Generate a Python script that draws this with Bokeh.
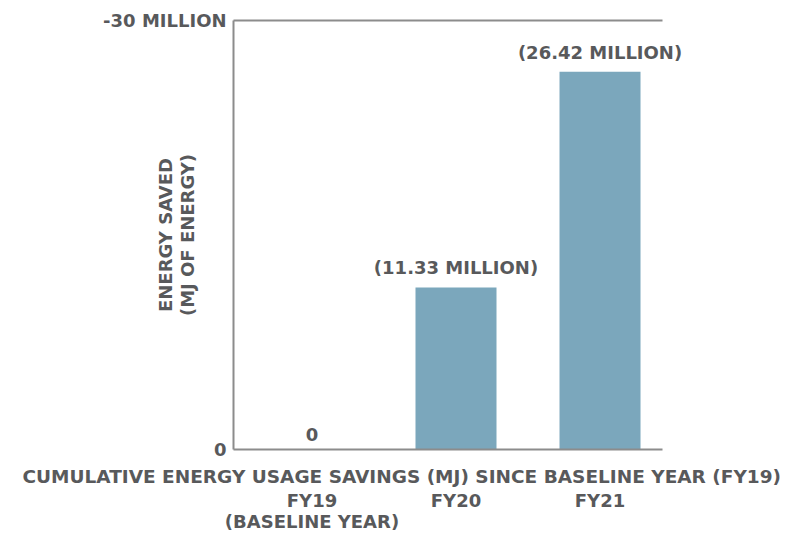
from bokeh.plotting import figure
from bokeh.models import (Range1d, FixedTicker, LinearAxis, Title,
                          ColumnDataSource, Label)
from bokeh.embed import file_html
from bokeh.resources import INLINE

# ---- data ----
categories = ["FY19\n(BASELINE YEAR)", "FY20", "FY21"]
savings = [0, -11330000, -26420000]
value_labels = ["0", "(11.33 MILLION)", "(26.42 MILLION)"]
y_ticks = [-30000000, 0]
y_tick_labels = ["-30 MILLION", "0"]
caption = "CUMULATIVE  ENERGY USAGE  SAVINGS (MJ) SINCE BASELINE YEAR (FY19)"
y_title = "ENERGY SAVED\n(MJ OF ENERGY)"

FONT = "DejaVu Sans"
TXT = "#58595b"
LINE = "#8c8c8c"
BAR = "#7ba7bc"
FS = "18px"

# plotting area spans X_START..X_END horizontally; the chart box lines end at X_BOX
X_START, X_BOX, X_END = -0.545, 2.434, 2.670

xs = list(range(len(categories)))
src = ColumnDataSource(dict(x=xs, top=savings, lab=value_labels))

p = figure(width=791, height=535, output_backend="svg", toolbar_location=None,
           x_range=Range1d(X_START, X_END), y_range=Range1d(0, -30000000),
           x_axis_location=None,
           min_border_left=233, min_border_right=95,
           min_border_top=20, min_border_bottom=86)
p.outline_line_color = None
p.background_fill_color = "white"
p.xgrid.visible = False
p.ygrid.visible = False


def line_axis():
    a = LinearAxis(ticker=FixedTicker(ticks=[]), bounds=(X_START, X_BOX))
    a.axis_line_color = LINE
    a.axis_line_width = 2
    a.major_tick_line_color = None
    a.minor_tick_line_color = None
    a.major_tick_out = 0
    a.minor_tick_out = 0
    a.major_label_standoff = 0
    return a


# top line (-30M) and bottom line (0)
p.add_layout(line_axis(), "above")
p.add_layout(line_axis(), "below")

# y axis
ya = p.yaxis[0]
ya.ticker = FixedTicker(ticks=y_ticks)
ya.major_label_overrides = {t: l for t, l in zip(y_ticks, y_tick_labels)}
ya.axis_line_color = LINE
ya.axis_line_width = 2
ya.major_tick_line_color = None
ya.minor_tick_line_color = None
ya.major_label_standoff = 1
ya.major_label_text_font = FONT
ya.major_label_text_font_style = "bold"
ya.major_label_text_font_size = FS
ya.major_label_text_color = TXT
ya.axis_label = y_title
ya.axis_label_text_font = FONT
ya.axis_label_text_font_style = "bold"
ya.axis_label_text_font_size = FS
ya.axis_label_text_color = TXT
ya.axis_label_text_line_height = 1.05
ya.axis_label_standoff = -98

# bars
p.vbar(x="x", top="top", bottom=0, width=0.5625, source=src,
       fill_color=BAR, line_color=None)
for xv, yv, lab in zip(xs, savings, value_labels):
    p.add_layout(Label(x=xv, y=yv, text=lab, text_align="center",
                       text_baseline="bottom", y_offset=9,
                       text_font=FONT, text_font_style="bold",
                       text_font_size=FS, text_color=TXT))

# caption below the frame
cap = Title(text=caption, align="left", offset=-211, standoff=28,
            text_font=FONT, text_font_style="bold", text_font_size="18.5px",
            text_color=TXT)
p.add_layout(cap, "below")

# category axis
xa = LinearAxis(ticker=FixedTicker(ticks=xs),
                major_label_overrides={i: c for i, c in zip(xs, categories)})
xa.axis_line_color = None
xa.major_tick_line_color = None
xa.minor_tick_line_color = None
xa.major_label_standoff = -17
xa.major_label_text_font = FONT
xa.major_label_text_font_style = "bold"
xa.major_label_text_font_size = FS
xa.major_label_text_color = TXT
xa.major_label_text_line_height = 1.0
p.add_layout(xa, "below")

open("out.html", "w").write(file_html(p, INLINE))
